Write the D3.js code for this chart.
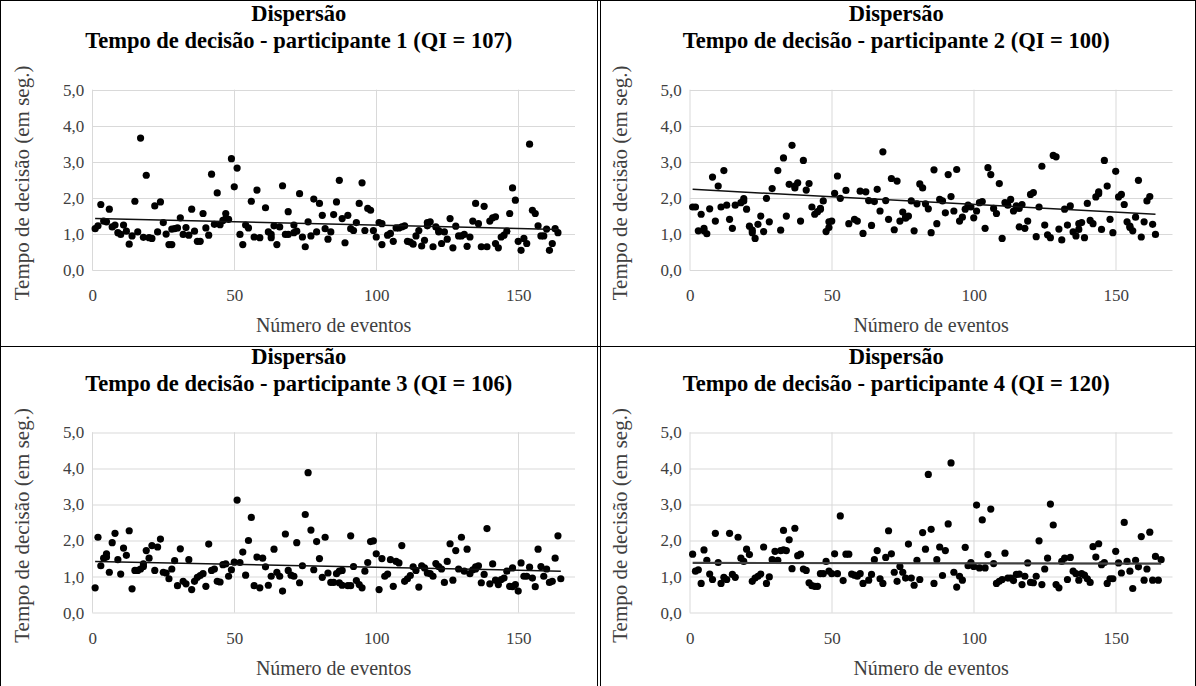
<!DOCTYPE html>
<html>
<head>
<meta charset="utf-8">
<script src="https://cdn.jsdelivr.net/npm/d3@7"></script>
<style>
  html, body { margin: 0; padding: 0; background: #fff; }
  svg { display: block; }
  svg text { font-family: 'Liberation Serif', 'Times New Roman', serif; }
</style>
</head>
<body>
<svg id="chart" width="1196" height="686"></svg>
<script>
// Decision time (s) per event, one array of [event, seconds] per participant
const participant1 = [
  [1,1.15],[2,1.23],[3,1.82],[4,1.36],[5,1.34],[6,1.69],[7,1.20],[8,1.25],[9,1.04],[10,0.99],
  [11,1.25],[12,1.08],[13,0.72],[14,0.95],[15,1.91],[16,1.06],[17,3.66],[18,0.91],[19,2.63],[20,0.90],
  [21,0.88],[22,1.78],[23,1.06],[24,1.89],[25,1.32],[26,1.00],[27,0.71],[28,1.14],[28,0.71],[29,1.15],
  [30,1.17],[31,1.45],[32,0.99],[33,1.18],[34,0.97],[35,1.69],[36,1.08],[37,0.80],[38,0.80],[39,1.57],
  [40,1.17],[41,0.97],[42,2.66],[43,1.27],[44,2.14],[45,1.26],[46,1.38],[47,1.57],[47,1.43],[48,1.41],
  [49,3.09],[50,2.31],[51,2.83],[52,0.99],[53,0.71],[54,1.25],[55,1.17],[56,1.91],[57,0.92],[58,2.22],
  [59,0.90],[61,1.73],[62,1.06],[63,0.99],[63,0.90],[64,1.23],[65,0.71],[66,1.20],[67,2.34],[68,0.99],
  [69,1.62],[69,0.99],[71,1.25],[71,1.04],[72,1.08],[73,2.12],[74,0.92],[75,0.65],[76,1.34],[77,0.95],
  [78,1.97],[79,1.06],[80,1.85],[81,1.52],[82,1.15],[83,0.86],[84,1.06],[85,1.54],[86,1.89],[87,2.49],
  [88,1.43],[89,0.76],[90,1.52],[91,1.15],[92,1.10],[93,1.32],[94,1.85],[95,2.42],[96,1.10],[97,1.71],
  [98,1.66],[99,1.10],[100,0.92],[101,1.32],[102,1.29],[102,0.71],[104,0.97],[105,1.02],[106,0.80],[107,1.17],
  [108,1.17],[109,1.20],[110,1.23],[111,0.80],[112,0.78],[113,0.72],[114,0.95],[115,1.10],[116,0.67],[117,0.83],
  [118,1.23],[118,1.32],[119,1.34],[120,0.65],[121,1.20],[122,1.06],[122,1.10],[123,0.74],[124,1.06],[125,0.86],
  [126,1.43],[127,0.62],[128,1.22],[129,0.95],[130,0.95],[131,0.99],[132,0.66],[133,0.92],[134,1.36],[135,1.85],
  [136,1.29],[137,0.65],[138,1.77],[139,0.65],[140,1.36],[141,1.45],[142,1.48],[142,0.74],[143,0.62],[144,0.92],
  [145,0.97],[146,1.08],[147,1.57],[148,2.28],[149,1.94],[150,0.80],[151,0.55],[152,0.88],[153,0.74],[154,3.49],
  [155,1.66],[156,1.57],[157,1.23],[158,0.95],[159,0.95],[160,1.14],[161,0.55],[162,0.74],[163,1.15],[164,1.04]
];

const participant2 = [
  [1,1.75],[2,1.75],[3,1.09],[4,1.55],[5,1.16],[5,1.09],[6,1.01],[7,1.70],[8,2.58],[9,1.36],
  [10,2.33],[11,1.75],[12,2.76],[13,1.80],[14,1.41],[15,1.16],[16,1.80],[18,1.87],[19,1.92],[19,1.98],
  [20,1.69],[21,1.22],[22,1.11],[22,1.04],[23,0.88],[24,1.27],[25,1.50],[26,1.07],[27,1.99],[28,1.34],
  [29,2.26],[31,2.76],[32,1.11],[33,3.11],[34,1.50],[35,2.38],[36,3.46],[37,2.28],[37,2.33],[38,2.42],
  [39,1.36],[40,3.04],[41,2.22],[42,2.40],[43,1.75],[44,1.55],[45,1.62],[46,1.69],[46,1.71],[47,1.92],
  [48,1.07],[49,1.18],[49,1.34],[50,1.36],[51,2.13],[52,2.61],[53,1.99],[55,2.21],[56,1.29],[58,1.41],
  [59,1.36],[60,2.19],[61,1.02],[62,2.17],[63,1.93],[64,1.24],[65,1.90],[66,2.24],[67,1.64],[68,3.28],
  [69,1.93],[70,1.41],[71,2.54],[72,1.12],[73,2.47],[74,1.36],[75,1.61],[76,1.44],[76,1.47],[77,1.50],
  [78,1.92],[79,1.09],[80,1.84],[81,2.39],[82,2.28],[83,1.84],[84,1.70],[85,1.04],[86,2.78],[87,1.29],
  [88,1.96],[89,1.92],[90,1.59],[91,2.65],[92,2.04],[93,1.64],[94,2.79],[95,1.36],[96,1.47],[97,1.69],
  [98,1.80],[99,1.75],[100,1.45],[101,1.64],[102,1.87],[103,1.90],[104,1.16],[105,2.84],[106,2.65],[107,1.71],
  [108,1.57],[109,2.40],[110,0.88],[111,1.87],[112,1.80],[113,1.96],[114,1.64],[115,1.78],[116,1.71],[116,1.20],
  [117,1.82],[118,1.16],[119,1.36],[120,2.10],[121,2.15],[122,0.93],[123,1.75],[124,2.88],[125,1.25],[126,0.98],
  [127,0.90],[128,3.18],[129,3.14],[130,1.14],[131,0.84],[132,1.69],[133,1.25],[134,1.78],[135,1.06],[136,0.95],
  [137,1.13],[137,1.29],[138,1.32],[139,0.90],[140,1.85],[141,1.38],[142,1.29],[143,2.03],[144,2.12],[144,2.17],
  [145,1.13],[146,3.04],[147,2.33],[148,1.41],[149,1.04],[150,2.74],[151,2.03],[152,2.10],[153,1.82],[154,1.34],
  [155,1.22],[155,1.18],[156,1.09],[157,1.47],[158,2.49],[159,0.92],[160,1.34],[161,1.92],[162,2.04],[163,1.27],
  [164,0.99]
];

const participant3 = [
  [1,0.69],[2,2.09],[3,1.30],[4,1.51],[5,1.54],[5,1.63],[6,1.12],[7,1.94],[8,2.20],[9,1.47],
  [10,1.07],[11,1.79],[12,1.59],[13,2.27],[14,0.66],[15,1.17],[16,1.17],[17,1.21],[18,1.28],[18,1.35],
  [19,1.72],[20,1.51],[21,1.86],[22,1.17],[23,1.82],[24,2.04],[25,1.12],[26,1.10],[27,0.94],[28,1.21],
  [29,1.44],[30,0.75],[31,1.77],[32,0.87],[33,0.80],[34,1.47],[35,0.64],[36,0.87],[37,0.98],[38,1.03],
  [39,1.08],[40,0.73],[41,1.90],[42,1.17],[43,1.21],[44,0.87],[45,0.85],[46,1.33],[47,1.35],[48,1.01],
  [49,1.19],[50,1.40],[51,3.12],[52,1.39],[53,1.68],[54,1.04],[55,2.00],[56,2.64],[57,0.75],[58,1.54],
  [59,0.69],[60,1.51],[61,1.27],[62,0.76],[63,1.01],[64,1.76],[65,1.12],[66,1.01],[67,0.60],[68,2.18],
  [69,1.17],[70,1.04],[71,1.01],[72,1.94],[73,0.83],[74,1.30],[75,2.72],[76,3.88],[77,2.29],[78,1.19],
  [79,1.97],[80,1.50],[81,0.98],[82,2.09],[83,1.10],[84,0.84],[85,0.84],[86,1.08],[87,0.83],[87,1.15],
  [88,1.17],[88,0.76],[90,0.75],[91,0.75],[91,2.13],[92,1.28],[93,0.89],[94,0.78],[95,0.69],[96,1.15],
  [97,1.39],[98,1.97],[99,1.99],[100,1.63],[101,0.64],[102,1.50],[103,1.01],[104,1.07],[105,1.47],[106,0.73],
  [107,1.42],[108,1.38],[109,1.86],[110,0.87],[111,0.94],[112,1.03],[113,1.27],[114,1.17],[115,0.71],[116,1.30],
  [117,1.24],[118,1.10],[119,1.08],[120,1.01],[121,1.36],[122,1.28],[123,1.21],[124,0.84],[125,1.42],[126,1.91],
  [127,0.90],[128,1.72],[129,1.21],[130,2.09],[131,1.15],[132,1.76],[133,1.08],[134,1.19],[135,1.27],[135,1.21],
  [136,1.30],[137,0.83],[138,1.06],[139,2.33],[140,0.80],[141,1.35],[142,0.90],[143,0.78],[144,0.92],[145,0.96],
  [146,1.15],[147,0.73],[148,1.24],[148,0.72],[149,0.78],[150,0.60],[151,1.38],[152,1.01],[153,1.01],[154,1.26],
  [155,0.96],[156,0.72],[157,1.76],[158,1.28],[159,1.01],[160,1.21],[161,0.84],[162,0.87],[163,1.51],[164,2.13],
  [165,0.94]
];

const participant4 = [
  [1,1.62],[2,1.15],[3,1.19],[4,0.81],[5,1.74],[6,1.45],[7,1.07],[8,0.92],[9,2.20],[10,1.39],
  [11,0.81],[12,0.98],[13,0.92],[14,2.20],[15,1.06],[16,0.98],[17,2.09],[18,1.51],[19,1.42],[20,1.76],
  [21,1.61],[22,0.87],[23,0.96],[24,1.01],[25,1.07],[26,1.82],[27,0.81],[28,0.99],[29,1.47],[30,1.70],
  [31,1.45],[32,1.72],[33,2.28],[33,1.74],[34,1.72],[35,2.02],[36,1.22],[37,2.34],[38,1.58],[39,1.62],
  [40,1.21],[41,1.17],[42,0.83],[43,0.75],[44,0.73],[45,0.73],[46,1.08],[47,1.08],[48,1.42],[49,1.15],
  [50,1.08],[51,1.63],[52,1.08],[53,2.68],[54,0.89],[55,1.62],[56,1.62],[57,1.07],[58,1.04],[59,1.01],
  [60,1.08],[61,0.81],[63,0.90],[64,1.06],[65,1.47],[66,1.72],[67,0.94],[68,0.81],[69,1.53],[70,2.27],
  [71,1.63],[72,1.12],[73,0.87],[74,1.28],[75,1.12],[76,0.96],[77,1.90],[78,0.96],[79,0.76],[80,1.45],
  [81,0.92],[82,2.22],[83,1.76],[84,3.83],[85,2.31],[86,0.81],[87,1.47],[88,1.82],[89,1.03],[90,1.72],
  [91,2.46],[92,4.15],[93,1.12],[94,0.71],[95,1.01],[96,0.90],[97,1.81],[98,1.30],[99,1.39],[100,1.28],
  [101,2.98],[102,1.24],[103,2.57],[104,1.24],[105,1.61],[106,2.87],[107,1.36],[108,0.81],[109,0.87],[110,0.92],
  [111,1.65],[112,0.96],[113,0.96],[114,0.89],[115,1.06],[116,1.07],[117,0.78],[118,1.01],[119,1.38],[120,0.84],
  [121,0.83],[122,1.01],[123,1.99],[124,0.78],[125,1.21],[126,1.51],[127,3.01],[128,2.43],[129,0.78],[130,0.69],
  [131,1.42],[132,1.51],[133,0.92],[134,1.53],[135,1.15],[136,1.08],[137,0.90],[138,1.08],[139,1.04],[140,0.94],
  [141,0.84],[142,1.83],[143,1.54],[144,1.91],[145,1.33],[146,1.39],[147,0.81],[148,0.94],[149,0.94],[150,1.70],
  [151,1.38],[152,1.10],[153,2.50],[154,1.42],[155,1.15],[156,0.67],[157,1.45],[158,1.27],[159,2.11],[160,0.90],
  [161,1.21],[162,2.23],[163,0.90],[164,1.56],[165,0.90],[166,1.47]
];

const participants = [1, 2, 3, 4];
const qiScores = [107, 100, 106, 120];
const series = [participant1, participant2, participant3, participant4];
// linear trendline value at the first and at the last event of each participant
const trendStart = [1.43, 2.24, 1.42, 1.38];
const trendEnd = [1.13, 1.55, 1.15, 1.36];
const xTicks = [0, 50, 100, 150];
const yTicks = [0, 1, 2, 3, 4, 5];
const xDomain = [0, 170];
const yDomain = [0, 5];

const chartTitle = "Dispersão";
const xTitle = "Número de eventos";
const yTitle = "Tempo de decisão (em seg.)";

// Layout of the 2x2 grid
const cellW = 597.5, cellH = 342.5;
const plotLeft = 92.3, plotTop = 89.7, plotW = 482.7, plotH = 180.5;

const svg = d3.select("#chart");
const serif = "'Liberation Serif', 'Times New Roman', serif";
const fmt = d3.formatLocale({decimal: ",", thousands: ".", grouping: [3], currency: ["", ""]}).format(".1f");

series.forEach((pts, i) => {
  const col = i % 2, row = Math.floor(i / 2);
  const g = svg.append("g").attr("transform", `translate(${col * cellW},${row * cellH})`);

  const x = d3.scaleLinear().domain(xDomain).range([plotLeft, plotLeft + plotW]);
  const y = d3.scaleLinear().domain(yDomain).range([plotTop + plotH, plotTop]);

  // gridlines
  g.append("g").selectAll("line").data(yTicks).join("line")
    .attr("x1", x(xDomain[0])).attr("x2", x(xDomain[1]))
    .attr("y1", d => Math.round(y(d)) + 0.5).attr("y2", d => Math.round(y(d)) + 0.5)
    .attr("stroke", "#d9d9d9").attr("stroke-width", 1);
  g.append("g").selectAll("line").data(xTicks).join("line")
    .attr("x1", d => Math.round(x(d)) + 0.5).attr("x2", d => Math.round(x(d)) + 0.5)
    .attr("y1", y(yDomain[0])).attr("y2", y(yDomain[1]))
    .attr("stroke", "#d9d9d9").attr("stroke-width", 1);

  // axes (labels only; lines come from the grid)
  const xAxis = g.append("g").attr("transform", `translate(0,${y(0)})`)
    .call(d3.axisBottom(x).tickValues(xTicks).tickSize(0).tickPadding(19).tickFormat(d3.format("d")));
  const yAxis = g.append("g").attr("transform", `translate(${x(0)},0)`)
    .call(d3.axisLeft(y).tickValues(yTicks).tickSize(0).tickPadding(8).tickFormat(fmt));
  [xAxis, yAxis].forEach(a => {
    a.attr("font-family", null);
    a.select(".domain").remove();
    a.selectAll("text").style("font-family", serif).attr("font-size", 17).attr("fill", "#404040");
  });

  // points
  g.append("g").selectAll("circle").data(pts).join("circle")
    .attr("cx", d => x(d[0])).attr("cy", d => y(d[1])).attr("r", 3.6).attr("fill", "#000");

  // linear trendline over the observed event range
  const xr = d3.extent(pts, d => d[0]);
  g.append("line")
    .attr("x1", x(xr[0])).attr("y1", y(trendStart[i]))
    .attr("x2", x(xr[1])).attr("y2", y(trendEnd[i]))
    .attr("stroke", i === 3 ? "#404040" : "#111")
    .attr("stroke-width", i === 3 ? 2.2 : 1.5);

  // titles
  const cx = cellW / 2;
  g.append("text").attr("x", cx).attr("y", 21).attr("text-anchor", "middle")
    .style("font-family", serif).attr("font-weight", "bold").attr("font-size", 22.5).attr("fill", "#000")
    .text(chartTitle);
  g.append("text").attr("x", cx).attr("y", 48).attr("text-anchor", "middle")
    .style("font-family", serif).attr("font-weight", "bold").attr("font-size", 22.5).attr("fill", "#000")
    .text(`Tempo de decisão - participante ${participants[i]} (QI = ${qiScores[i]})`);

  g.append("text").attr("x", plotLeft + plotW / 2).attr("y", 332).attr("text-anchor", "middle")
    .style("font-family", serif).attr("font-size", 20).attr("fill", "#404040")
    .text(xTitle);
  g.append("text")
    .attr("transform", `translate(29,${plotTop + plotH / 2 + 3}) rotate(-90)`)
    .attr("text-anchor", "middle")
    .style("font-family", serif).attr("font-size", 21).attr("fill", "#404040")
    .text(yTitle);
});

// table frame around the four panels
const frame = svg.append("g").attr("stroke", "#000").attr("stroke-width", 1).attr("fill", "none");
frame.append("line").attr("x1", 0).attr("x2", 1196).attr("y1", 0.5).attr("y2", 0.5);
frame.append("line").attr("x1", 0.5).attr("x2", 0.5).attr("y1", 0).attr("y2", 686);
frame.append("line").attr("x1", 1195.5).attr("x2", 1195.5).attr("y1", 0).attr("y2", 686);
frame.append("line").attr("x1", 597.5).attr("x2", 597.5).attr("y1", 0).attr("y2", 686);
frame.append("line").attr("x1", 600.5).attr("x2", 600.5).attr("y1", 0).attr("y2", 686);
frame.append("line").attr("x1", 0).attr("x2", 1196).attr("y1", 346.5).attr("y2", 346.5);
</script>
</body>
</html>
